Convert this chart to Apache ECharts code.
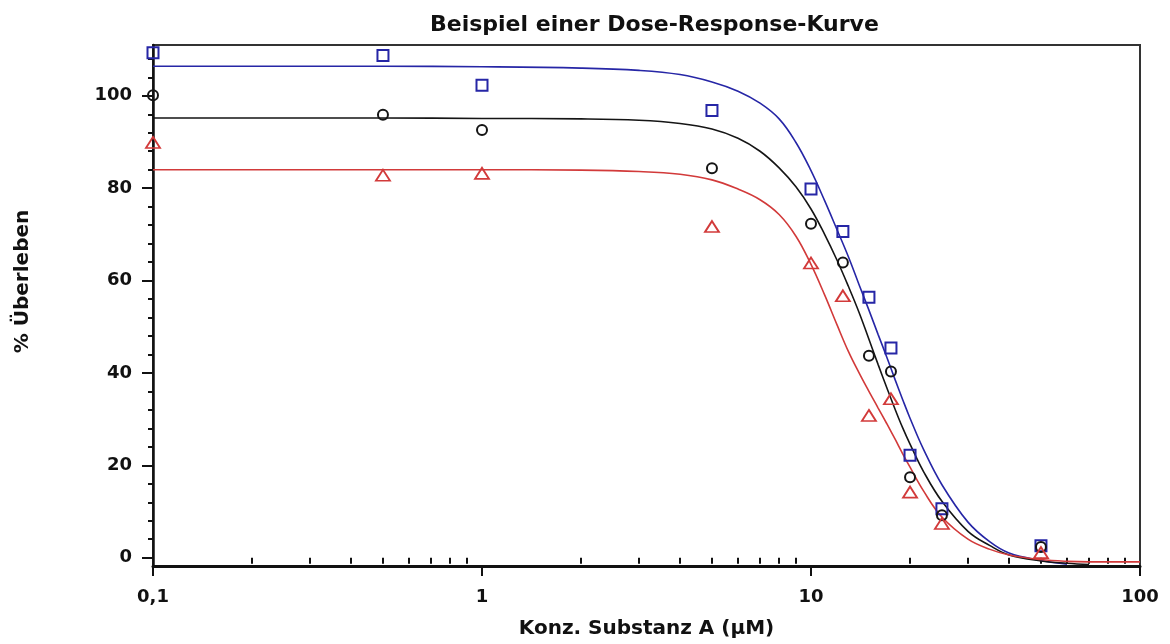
<!DOCTYPE html>
<html>
<head>
<meta charset="utf-8">
<script src="https://cdn.jsdelivr.net/npm/echarts@6/dist/echarts.min.js"></script>
<style>html,body{margin:0;padding:0;background:#fff}#c{width:1170px;height:644px}</style>
</head>
<body>
<div id="c"></div>
<script>
// ---- texts ----
const chartTitle = 'Beispiel einer Dose-Response-Kurve';
const xAxisName = 'Konz. Substanz A (µM)';
const yAxisName = '% Überleben';

// ---- measured points (concentration in µM, % survival) ----
const doseConc  = [0.1, 0.5, 1, 5, 10, 12.5, 15, 17.5, 20, 25, 50];
const bluePoints  = [109.3, 108.7, 102.3, 96.8, 79.8, 70.6, 56.4, 45.4, 22.2, 10.6, 2.6];
const blackPoints = [100.1, 95.9, 92.6, 84.3, 72.3, 63.9, 43.7, 40.3, 17.4, 9.2, 2.3];
const redPoints   = [89.9, 82.8, 83.2, 71.7, 63.8, 56.7, 30.8, 34.4, 14.2, 7.4, 1.1];

// ---- fitted curves ----
const fitConc  = [0.1, 0.5, 1, 2, 3, 4, 5, 6, 7, 8, 9, 10, 11, 12, 13, 14, 15, 16, 17, 18, 19, 20, 22, 25, 30, 35, 40, 50, 60, 70, 100];
const blueFit  = [106.4, 106.4, 106.3, 106.0, 105.5, 104.6, 103.0, 101.0, 98.4, 95.0, 89.9, 83.8, 77.3, 71.0, 65.1, 59.1, 53.6, 48.3, 43.4, 38.6, 34.2, 30.2, 23.4, 15.8, 7.7, 3.4, 1.0, -0.6, -1.4, null, null];
const blackFit = [95.2, 95.2, 95.1, 95.0, 94.7, 94.0, 92.8, 90.8, 88.0, 84.4, 80.3, 75.5, 70.0, 64.4, 58.7, 53.1, 47.3, 41.8, 36.8, 32.2, 28.1, 24.6, 18.6, 12.2, 5.7, 2.6, 0.6, -0.7, -1.2, -1.5, null];
const redFit   = [84.0, 84.0, 84.0, 83.9, 83.6, 83.0, 81.8, 79.8, 77.5, 74.3, 69.6, 63.5, 56.9, 50.4, 44.6, 40.0, 36.0, 32.4, 29.0, 25.7, 22.5, 19.6, 14.4, 8.8, 4.0, 1.8, 0.6, -0.4, -0.8, -0.9, -0.9];

// ---- tick values ----
const yMajorTicks = [0, 20, 40, 60, 80, 100];
const yMinorTicks = [4, 8, 12, 16, 24, 28, 32, 36, 44, 48, 52, 56, 64, 68, 72, 76, 84, 88, 92, 96, 104, 108];
const xMinorTicks = [0.2, 0.3, 0.4, 0.5, 0.6, 0.7, 0.8, 0.9, 2, 3, 4, 5, 6, 7, 8, 9, 20, 30, 40, 50, 60, 70, 80, 90];

const FONT = 'DejaVu Sans';
const BLUE = '#2626a6';
const BLACK = '#151515';
const RED = '#d23a3a';
const AX = '#111';

function pairs(xs, ys) {
  const out = [];
  xs.forEach((x, i) => { if (ys[i] !== null) out.push([x, ys[i]]); });
  return out;
}

const chart = echarts.init(document.getElementById('c'), null, {renderer: 'canvas'});
const labelStyle = {fontFamily: FONT, fontWeight: 'bold', fontSize: 18, color: AX};

chart.setOption({
  animation: false,
  backgroundColor: '#fff',
  title: {
    text: chartTitle, left: 425, top: 9,
    textStyle: {fontFamily: FONT, fontWeight: 'bold', fontSize: 22, color: AX}
  },
  grid: {left: 153, right: 30, top: 45, bottom: 76, show: true, borderColor: '#333', borderWidth: 2},
  xAxis: [
    {
      type: 'log', logBase: 10, min: 0.1, max: 100, position: 'bottom',
      axisLine: {show: true, onZero: false, lineStyle: {color: AX, width: 3}},
      axisTick: {show: true, length: 10, lineStyle: {color: AX, width: 2}},
      axisLabel: Object.assign({margin: 22, formatter: v => String(v).replace('.', ',')}, labelStyle),
      splitLine: {show: false},
      name: xAxisName, nameLocation: 'middle', nameGap: 53,
      nameTextStyle: {fontFamily: FONT, fontWeight: 'bold', fontSize: 20, color: AX}
    },
    {
      type: 'log', logBase: 10, min: 0.1, max: 100, position: 'bottom',
      axisLine: {show: false},
      axisTick: {show: true, length: 6, customValues: xMinorTicks, lineStyle: {color: AX, width: 2}},
      axisLabel: {show: false},
      splitLine: {show: false}
    }
  ],
  yAxis: [
    {
      type: 'value', min: -1.8, max: 111, position: 'left',
      axisLine: {show: true, onZero: false, lineStyle: {color: AX, width: 2.5}},
      axisTick: {show: true, length: 11, customValues: yMajorTicks, lineStyle: {color: AX, width: 2}},
      axisLabel: Object.assign({margin: 21, customValues: yMajorTicks}, labelStyle),
      splitLine: {show: false},
      name: yAxisName, nameLocation: 'middle', nameGap: 120, nameRotate: 90,
      nameTextStyle: {fontFamily: FONT, fontWeight: 'bold', fontSize: 20, color: AX, padding: [0, 0, 0, 48]}
    },
    {
      type: 'value', min: -1.8, max: 111, position: 'left',
      axisLine: {show: false},
      axisTick: {show: true, length: 5, customValues: yMinorTicks, lineStyle: {color: AX, width: 2}},
      axisLabel: {show: false},
      splitLine: {show: false}
    }
  ],
  series: [
    {type: 'line', name: 'fit blue', data: pairs(fitConc, blueFit), smooth: 0.4, showSymbol: false, lineStyle: {color: BLUE, width: 1.6}, z: 2},
    {type: 'line', name: 'fit black', data: pairs(fitConc, blackFit), smooth: 0.4, showSymbol: false, lineStyle: {color: BLACK, width: 1.6}, z: 2},
    {type: 'line', name: 'fit red', data: pairs(fitConc, redFit), smooth: 0.4, showSymbol: false, lineStyle: {color: RED, width: 1.6}, z: 2},
    {type: 'scatter', name: 'blue', data: pairs(doseConc, bluePoints), symbol: 'rect', symbolSize: 11,
     itemStyle: {color: 'rgba(0,0,0,0)', borderColor: BLUE, borderWidth: 2, opacity: 1}, z: 3},
    {type: 'scatter', name: 'black', data: pairs(doseConc, blackPoints), symbol: 'circle', symbolSize: 10,
     itemStyle: {color: 'rgba(0,0,0,0)', borderColor: BLACK, borderWidth: 2, opacity: 1}, z: 3},
    {type: 'scatter', name: 'red', data: pairs(doseConc, redPoints), symbol: 'triangle', symbolSize: [14, 11],
     itemStyle: {color: 'rgba(0,0,0,0)', borderColor: RED, borderWidth: 1.8, opacity: 1}, z: 3}
  ]
});
</script>
</body>
</html>
